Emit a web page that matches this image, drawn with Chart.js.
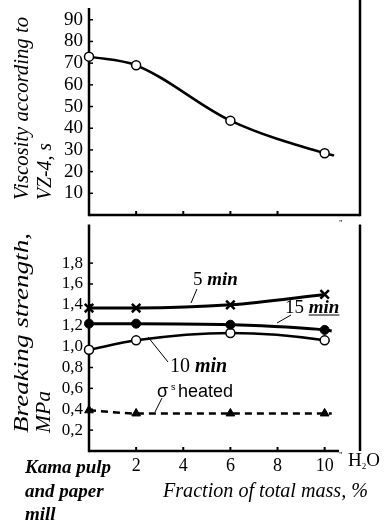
<!DOCTYPE html>
<html><head><meta charset="utf-8">
<script src="https://cdn.jsdelivr.net/npm/chart.js@4.4.0/dist/chart.umd.min.js"></script>
<style>
html,body{margin:0;padding:0;background:#fff;}
#wrap{position:relative;width:388px;height:532px;overflow:hidden;background:#fff;}
#c1{position:absolute;left:0;top:0;}
#c2{position:absolute;left:0;top:216px;}
</style></head><body>
<div id="wrap">
<canvas id="c2" width="388" height="316"></canvas>
<canvas id="c1" width="388" height="222"></canvas>
</div>
<script>
// ---- data ----
const viscosityFraction = [0, 2, 6, 10, 10.4];
const viscosity = [73, 69, 43.5, 28.5, 27.5];

const min5Fraction = [0, 2, 6, 10];
const min5Strength = [1.37, 1.37, 1.40, 1.50];
const min15Fraction = [0, 2, 6, 10, 10.3];
const min15Strength = [1.22, 1.22, 1.21, 1.16, 1.15];
const min10Fraction = [0, 2, 6, 10, 10.2];
const min10Strength = [0.97, 1.06, 1.13, 1.06, 1.05];
const heatedFraction = [0, 2, 6, 10, 10.3];
const heatedStrength = [0.39, 0.36, 0.36, 0.36, 0.36];

const topYTitle = ['Viscosity according to', 'VZ-4, s'];
const bottomYTitle = ['Breaking strength,', 'MPa'];
const xTitle = 'Fraction of total mass, %';
const originLabel = ['Kama pulp', 'and paper', 'mill'];

const SERIF = '"Liberation Serif", "Times New Roman", serif';
const SANS = '"Liberation Sans", Arial, sans-serif';
const pts = (xs, ys) => xs.map((x, i) => ({x, y: ys[i]}));
const measured = r => (ctx => ctx.dataIndex < 4 ? r : 0);

function fitText(ctx, text, x, y, width, font, rotate) {
  ctx.save();
  ctx.font = font;
  const w = ctx.measureText(text).width;
  ctx.translate(x, y);
  if (rotate) ctx.rotate(-Math.PI / 2);
  ctx.scale(width / w, 1);
  ctx.textAlign = 'left';
  ctx.textBaseline = 'alphabetic';
  ctx.fillStyle = '#000';
  ctx.fillText(text, 0, 0);
  ctx.restore();
}
function line(ctx, x1, y1, x2, y2, w) {
  ctx.save(); ctx.strokeStyle = '#000'; ctx.lineWidth = w; ctx.lineCap = 'butt';
  ctx.beginPath(); ctx.moveTo(x1, y1); ctx.lineTo(x2, y2); ctx.stroke(); ctx.restore();
}
function txt(ctx, s, x, y, font) {
  ctx.save(); ctx.font = font; ctx.fillStyle = '#000'; ctx.textAlign = 'left'; ctx.textBaseline = 'alphabetic';
  ctx.fillText(s, x, y); const w = ctx.measureText(s).width; ctx.restore(); return w;
}
function innerTicks(chart) {
  const {ctx, chartArea: a, scales: {x, y}} = chart;
  x.ticks.forEach(t => { if (t.value > 0) { const px = x.getPixelForValue(t.value); line(ctx, px, a.bottom, px, a.bottom - 4, 2); } });
  y.ticks.forEach(t => { if (t.label) { const py = y.getPixelForValue(t.value); line(ctx, a.left, py, a.left + 4, py, 1.5); } });
}
const fixWidth = w => (s => { s.width = w; s.paddingTop = 0; s.paddingBottom = 0; });
const fixHeight = h => (s => { s.height = h; s.paddingLeft = 0; s.paddingRight = 0; });

const topFrame = {
  id: 'topFrame',
  beforeDatasetsDraw(chart) {
    const {ctx, chartArea: a} = chart;
    line(ctx, a.left, a.top - 2, a.left, a.bottom + 1.2, 2.5);
    line(ctx, a.left, a.bottom, a.right, a.bottom, 2.5);
    line(ctx, a.right, 0, a.right, a.bottom + 1.2, 2.5);
    innerTicks(chart);
  },
  afterDraw(chart) {
    const {ctx} = chart;
    fitText(ctx, topYTitle[0], 28, 200, 183, 'italic 21px ' + SERIF, true);
    fitText(ctx, topYTitle[1], 51, 200, 57, 'italic 21px ' + SERIF, true);
  }
};

const OFF = 216; // page offset of bottom canvas
const bottomFrame = {
  id: 'bottomFrame',
  beforeDatasetsDraw(chart) {
    const {ctx, chartArea: a} = chart;
    line(ctx, a.left, a.top, a.left, a.bottom + 1.2, 2.5);
    line(ctx, a.left, a.bottom, 339, a.bottom, 2.5);
    line(ctx, a.right, a.top, a.right, a.bottom, 2.5);
    innerTicks(chart);
  },
  afterDraw(chart) {
    const {ctx} = chart;
    const Y = v => v - OFF;
    // axis titles
    fitText(ctx, bottomYTitle[0], 28, Y(433), 200, 'italic 21px ' + SERIF, true);
    fitText(ctx, bottomYTitle[1], 50, Y(433), 42, 'italic 21px ' + SERIF, true);
    // stray marks
    txt(ctx, '"', 339, Y(226), '9px ' + SERIF);
    txt(ctx, '"', 339, Y(458), '9px ' + SERIF);
    // H2O
    let w = txt(ctx, 'H', 348, Y(466), '19px ' + SERIF);
    const w2 = txt(ctx, '2', 348 + w, Y(469), '9px ' + SERIF);
    txt(ctx, 'O', 348 + w + w2, Y(466), '19px ' + SERIF);
    // x title & origin label
    fitText(ctx, xTitle, 163, Y(497), 205, 'italic 20px ' + SERIF, false);
    [473, 497, 520].forEach((b, i) => txt(ctx, originLabel[i], 25, Y(b), 'italic bold 19px ' + SERIF));
    // series labels with leaders
    w = txt(ctx, '5 ', 193, Y(285), '19px ' + SERIF);
    txt(ctx, 'min', 193 + w, Y(285), 'italic bold 19px ' + SERIF);
    line(ctx, 191, Y(303), 197, Y(289), 1);

    w = txt(ctx, '15 ', 285, Y(313), '19px ' + SERIF);
    const wm = txt(ctx, 'min', 285 + w, Y(313), 'italic bold 19px ' + SERIF);
    line(ctx, 285 + w, Y(315), 285 + w + wm, Y(315), 1);
    line(ctx, 277, Y(323), 291, Y(315), 1);

    w = txt(ctx, '10 ', 170, Y(372), '20px ' + SERIF);
    txt(ctx, 'min', 170 + w, Y(372), 'italic bold 20px ' + SERIF);
    line(ctx, 148, Y(337), 168, Y(362), 1);

    txt(ctx, 'σ', 157, Y(397), '18px ' + SANS);
    txt(ctx, 's', 171, Y(390), '9px ' + SANS);
    txt(ctx, 'heated', 178, Y(397), '18px ' + SANS);
    line(ctx, 155, Y(412), 162, Y(398), 1);
  }
};

const yTicksCommon = {color: '#000', padding: 6, includeBounds: false, autoSkip: false};

new Chart(document.getElementById('c1'), {
  type: 'line',
  data: {datasets: [{
    data: pts(viscosityFraction, viscosity),
    borderColor: '#000', borderWidth: 2.5, cubicInterpolationMode: 'monotone',
    pointRadius: measured(4.5), pointStyle: 'circle', pointBackgroundColor: '#fff',
    pointBorderColor: '#000', pointBorderWidth: 1.5, clip: false
  }]},
  options: {
    responsive: false, animation: false, events: [],
    layout: {padding: {left: 0, top: 10, right: 28, bottom: 7}},
    plugins: {legend: {display: false}, tooltip: {enabled: false}},
    scales: {
      x: {type: 'linear', display: false, min: 0, max: 11.5},
      y: {type: 'linear', min: 0, max: 94.5,
          afterFit: fixWidth(89),
          grid: {display: false, drawTicks: false}, border: {display: false},
          ticks: {...yTicksCommon, stepSize: 10, font: {family: SERIF, size: 19},
                  callback: v => (v > 0 && v % 10 === 0) ? String(v) : ''}}
    }
  },
  plugins: [topFrame]
});

new Chart(document.getElementById('c2'), {
  type: 'line',
  data: {datasets: [
    {data: pts(min5Fraction, min5Strength), borderColor: '#000', borderWidth: 3,
     cubicInterpolationMode: 'monotone', pointStyle: 'crossRot', pointRadius: measured(6),
     pointBorderColor: '#000', pointBorderWidth: 2.5, clip: false},
    {data: pts(min15Fraction, min15Strength), borderColor: '#000', borderWidth: 3,
     cubicInterpolationMode: 'monotone', pointStyle: 'circle', pointRadius: measured(4.5),
     pointBackgroundColor: '#000', pointBorderColor: '#000', pointBorderWidth: 1, clip: false},
    {data: pts(min10Fraction, min10Strength), borderColor: '#000', borderWidth: 2.5,
     cubicInterpolationMode: 'monotone', pointStyle: 'circle', pointRadius: measured(4.5),
     pointBackgroundColor: '#fff', pointBorderColor: '#000', pointBorderWidth: 1.5, clip: false},
    {data: pts(heatedFraction, heatedStrength), borderColor: '#000', borderWidth: 2.5, borderDash: [7, 5],
     cubicInterpolationMode: 'monotone', pointStyle: 'triangle', pointRadius: measured(5),
     pointBackgroundColor: '#000', pointBorderColor: '#000', pointBorderWidth: 1, clip: false}
  ]},
  options: {
    responsive: false, animation: false, events: [],
    layout: {padding: {left: 0, top: 6, right: 28, bottom: 0}},
    plugins: {legend: {display: false}, tooltip: {enabled: false}},
    scales: {
      x: {type: 'linear', min: 0, max: 11.5,
          afterFit: fixHeight(81),
          grid: {display: false, drawTicks: false}, border: {display: false},
          ticks: {color: '#000', padding: 4, includeBounds: false, stepSize: 2, maxRotation: 0, autoSkip: false,
                  font: {family: SERIF, size: 18},
                  callback: v => v > 0 ? String(v) : ''}},
      y: {type: 'linear', min: 0, max: 2.17,
          afterFit: fixWidth(89),
          grid: {display: false, drawTicks: false}, border: {display: false},
          ticks: {...yTicksCommon, stepSize: 0.2, font: {family: SERIF, size: 17},
                  callback: v => (v > 0.05 && v < 1.85) ? v.toFixed(1).replace('.', ',') : ''}}
    }
  },
  plugins: [bottomFrame]
});
</script>
</body></html>
